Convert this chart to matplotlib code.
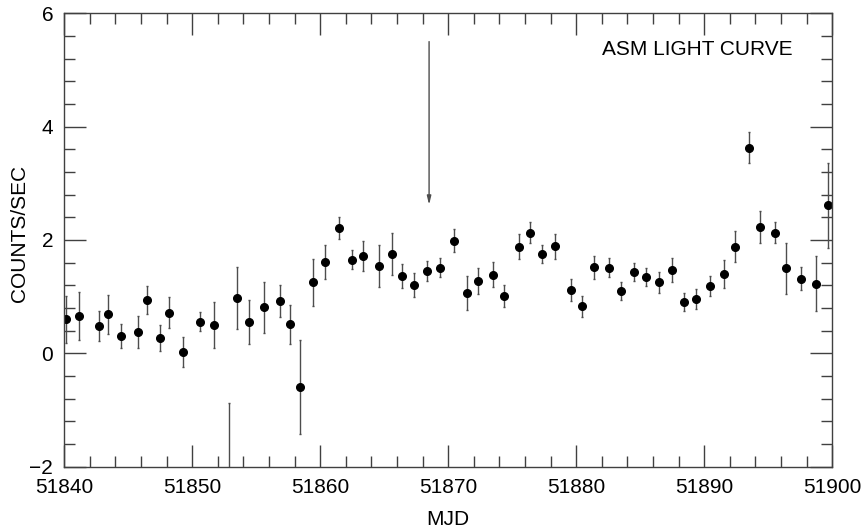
import matplotlib

matplotlib.use("Agg")
import matplotlib.pyplot as plt
import numpy as np
from matplotlib.ticker import MultipleLocator

plt.rcParams["font.family"] = ["Liberation Sans", "DejaVu Sans"]

# ASM daily averages (MJD offset from 51840)
mjd_offset = [
    0.16, 1.17, 2.69, 3.39, 4.45, 5.73, 6.46, 7.48, 8.20, 9.30,
    10.58, 11.67, 12.84, 13.47, 14.45, 15.60, 16.83, 17.66, 18.41, 19.41,
    20.37, 21.50, 22.45, 23.31, 24.56, 25.60, 26.41, 27.30, 28.31, 29.38,
    30.42, 31.44, 32.30, 33.52, 34.35, 35.55, 36.38, 37.34, 38.31, 39.59,
    40.47, 41.41, 42.53, 43.47, 44.51, 45.42, 46.48, 47.48, 48.39, 49.33,
    50.45, 51.54, 52.40, 53.52, 54.38, 55.50, 56.38, 57.53, 58.73, 59.66,
]
rate = [
    0.60, 0.66, 0.48, 0.69, 0.30, 0.38, 0.94, 0.27, 0.72, 0.02,
    0.56, 0.50, -3.00, 0.98, 0.55, 0.81, 0.93, 0.51, -0.60, 1.25,
    1.62, 2.21, 1.65, 1.72, 1.54, 1.75, 1.36, 1.20, 1.45, 1.51,
    1.99, 1.06, 1.28, 1.39, 1.01, 1.88, 2.13, 1.75, 1.89, 1.12,
    0.83, 1.52, 1.51, 1.10, 1.43, 1.34, 1.25, 1.47, 0.90, 0.96,
    1.19, 1.40, 1.88, 3.63, 2.23, 2.13, 1.50, 1.32, 1.23, 2.61,
]
rate_err = [
    0.42, 0.42, 0.27, 0.34, 0.21, 0.28, 0.25, 0.23, 0.28, 0.26,
    0.17, 0.41, 2.12, 0.55, 0.39, 0.45, 0.28, 0.34, 0.83, 0.41,
    0.30, 0.19, 0.17, 0.27, 0.37, 0.37, 0.21, 0.21, 0.18, 0.17,
    0.20, 0.30, 0.23, 0.22, 0.20, 0.22, 0.18, 0.16, 0.22, 0.19,
    0.19, 0.20, 0.17, 0.16, 0.16, 0.16, 0.19, 0.22, 0.16, 0.17,
    0.18, 0.25, 0.27, 0.28, 0.28, 0.19, 0.45, 0.21, 0.48, 0.75,
]
MJD0 = 51840
arrow_mjd = 51868.5
arrow_from = 5.50
arrow_to = 2.62

mjd = MJD0 + np.array(mjd_offset)

fig = plt.figure(figsize=(8.63, 5.31), dpi=100)
ax = fig.add_axes([0.0745, 0.1211, 0.8899, 0.8539])

ax.errorbar(mjd, rate, yerr=rate_err, fmt="o", color="black", ms=5.5,
            ecolor="0.3", elinewidth=1.0, capsize=1.0, capthick=1.0)

ax.annotate("", xy=(arrow_mjd, arrow_to), xytext=(arrow_mjd, arrow_from),
            arrowprops=dict(arrowstyle="-|>,head_length=0.5,head_width=0.12",
                            color="0.3", lw=1.0, shrinkA=0, shrinkB=0))

ax.text(0.948, 0.921, "ASM LIGHT CURVE", transform=ax.transAxes,
        ha="right", va="center", fontsize=15)

ax.set_xlim(51840, 51900)
ax.set_ylim(-2, 6)
ax.xaxis.set_major_locator(MultipleLocator(10))
ax.xaxis.set_minor_locator(MultipleLocator(2))
ax.yaxis.set_major_locator(MultipleLocator(2))
ax.yaxis.set_minor_locator(MultipleLocator(0.4))
ax.xaxis.get_major_formatter().set_useOffset(False)

ax.tick_params(which="both", direction="in", top=True, right=True,
               labelsize=15, color="0.25", width=1.0)
ax.tick_params(which="major", length=16, pad=8)
ax.tick_params(which="minor", length=8)
for sp in ax.spines.values():
    sp.set_color("0.25")
    sp.set_linewidth(1.0)

ax.set_xlabel("MJD", fontsize=15)
ax.set_ylabel("COUNTS/SEC", fontsize=15)
ax.xaxis.set_label_coords(0.5, -0.095)
ax.yaxis.set_label_coords(-0.046, 0.515)

fig.savefig("out.png", dpi=100)
